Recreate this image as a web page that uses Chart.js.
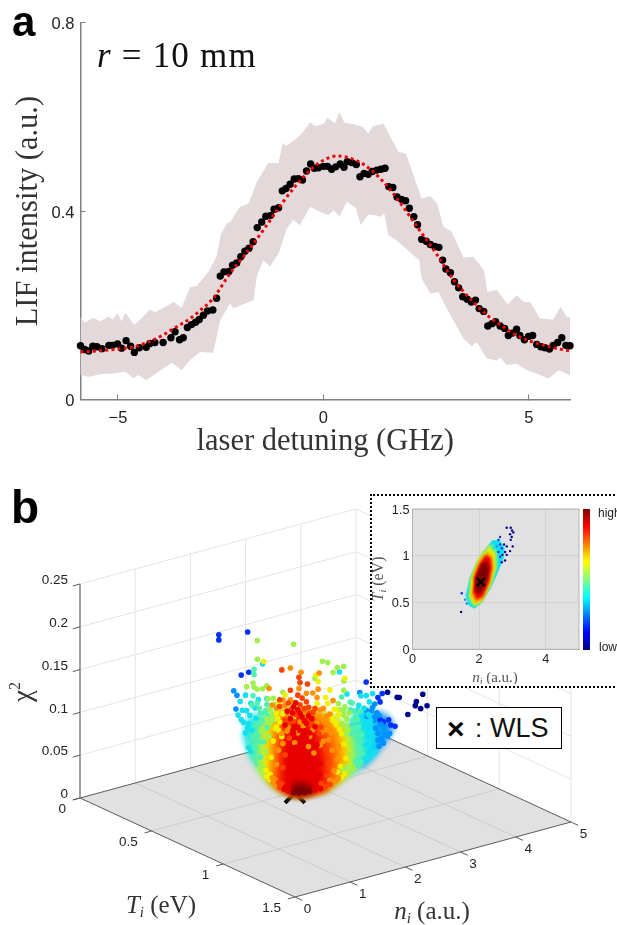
<!doctype html>
<html><head><meta charset="utf-8"><title>LIF intensity and chi-square map</title>
<script src="https://cdn.jsdelivr.net/npm/chart.js@4"></script>
<style>
html,body{margin:0;padding:0;background:#fff;width:617px;height:925px;overflow:hidden;font-family:"Liberation Sans",sans-serif}
canvas{position:absolute;display:block}
.abs{position:absolute;white-space:nowrap}
</style></head><body>
<canvas id="cA" width="617" height="470" style="left:0;top:0;width:617px;height:470px"></canvas>
<canvas id="cB" width="617" height="455" style="left:0;top:470px;width:617px;height:455px"></canvas>
<div class="abs" style="left:370px;top:494px;width:260px;height:190px;border:2px dotted #000;background:#fff"></div>
<canvas id="cC" width="245" height="188" style="left:372px;top:496px;width:245px;height:188px"></canvas>
<div class="abs" id="cbar" style="left:583px;top:509px;width:7px;height:141px"></div>
<div class="abs" style="left:598px;top:506px;font-size:12px;color:#222">high</div>
<div class="abs" style="left:599px;top:640px;font-size:12px;color:#222">low</div>
<div class="abs" style="left:436px;top:707px;width:124px;height:40px;border:1.5px solid #000;background:#fff"></div>
<div class="abs" style="left:447px;top:711px;font-size:30px;font-weight:bold;color:#000;line-height:36px">×</div>
<div class="abs" style="left:475px;top:711px;font-size:26px;color:#111;line-height:34px">:</div>
<div class="abs" style="left:490px;top:711px;font-size:27px;color:#111;line-height:34px">WLS</div>
<div class="abs" style="left:12px;top:-2px;font-size:42px;font-weight:bold;color:#000;line-height:48px">a</div>
<div class="abs" style="left:11px;top:482px;font-size:46px;font-weight:bold;color:#000;line-height:50px">b</div>
<script>
Chart.defaults.animation = false;
Chart.defaults.font.family = '"Liberation Sans", sans-serif';
const SERIF = '"Liberation Serif", serif';

// ---------- panel a ----------
const xTicksA = [-5, 0, 5];
const yTicksA = [0, 0.4, 0.8];
const detuning = [-5.91,-5.81,-5.71,-5.61,-5.51,-5.39,-5.22,-5.13,-5.01,-4.91,-4.80,-4.69,-4.60,-4.48,-4.31,-4.22,-4.10,-3.90,-3.71,-3.61,-3.50,-3.41,-3.31,-3.21,-3.11,-3.02,-2.92,-2.82,-2.69,-2.60,-2.51,-2.42,-2.30,-2.21,-2.11,-2.01,-1.91,-1.81,-1.71,-1.61,-1.50,-1.40,-1.28,-1.20,-1.09,-1.00,-0.91,-0.81,-0.71,-0.61,-0.51,-0.41,-0.31,-0.22,-0.12,0,0.10,0.20,0.30,0.41,0.50,0.58,0.69,0.80,0.89,0.99,1.09,1.19,1.30,1.40,1.50,1.59,1.69,1.79,1.90,2.00,2.09,2.20,2.29,2.39,2.50,2.60,2.71,2.81,2.90,2.98,3.09,3.19,3.29,3.39,3.50,3.60,3.70,3.79,3.90,4.00,4.10,4.19,4.30,4.41,4.50,4.60,4.70,4.78,4.89,4.99,5.09,5.19,5.29,5.39,5.50,5.59,5.70,5.80,5.90,6.00];
const intensity = [.114,.106,.103,.113,.112,.108,.115,.115,.118,.109,.125,.113,.100,.110,.111,.119,.121,.121,.131,.144,.127,.131,.153,.159,.164,.170,.179,.188,.190,.215,.262,.271,.272,.285,.290,.303,.315,.321,.335,.365,.377,.389,.391,.404,.407,.443,.448,.457,.468,.469,.466,.485,.500,.491,.492,.495,.495,.489,.494,.500,.493,.505,.503,.499,.473,.480,.478,.484,.487,.489,.491,.452,.450,.430,.425,.422,.406,.388,.371,.340,.336,.329,.325,.323,.296,.277,.269,.250,.237,.218,.213,.207,.211,.193,.187,.156,.161,.165,.156,.151,.136,.141,.149,.136,.127,.134,.136,.117,.112,.110,.107,.115,.121,.131,.115,.114];
const fitX = [-5.91,-5.5,-5,-4.6,-4.2,-3.9,-3.6,-3.24,-3,-2.68,-2.27,-1.91,-1.46,-1.01,-.71,-.32,0,.34,.7,1,1.34,1.7,2.03,2.4,2.72,3.16,3.57,4.04,4.38,4.7,5.1,5.5,5.88,6];
const fitY = [.101,.103,.107,.112,.124,.137,.153,.172,.189,.215,.268,.307,.36,.416,.45,.487,.508,.517,.511,.498,.473,.437,.398,.352,.313,.255,.214,.175,.154,.136,.122,.112,.105,.104];
const upperX = [-5.91,-5.81,-5.61,-5.43,-5.22,-5.13,-5.01,-4.91,-4.82,-4.6,-4.42,-4.22,-4.1,-3.89,-3.65,-3.45,-3.24,-3.08,-2.8,-2.6,-2.5,-2.35,-2.27,-2.03,-1.82,-1.62,-1.34,-1.09,-.99,-.91,-.65,-.53,-.32,-.2,0,.1,.28,.39,.51,.77,.97,1.09,1.2,1.46,1.82,2.01,2.39,2.6,2.77,2.92,3.12,3.41,3.65,3.91,3.99,4.22,4.48,4.7,4.88,5.03,5.27,5.59,5.77,5.92,6];
const upperY = [.176,.163,.173,.166,.176,.17,.183,.166,.184,.158,.173,.191,.185,.195,.207,.195,.239,.241,.271,.303,.349,.374,.377,.409,.416,.462,.502,.502,.545,.539,.554,.565,.588,.58,.585,.598,.586,.61,.588,.584,.578,.565,.58,.586,.526,.522,.427,.432,.416,.367,.356,.301,.303,.274,.228,.233,.202,.221,.207,.207,.172,.17,.197,.175,.175];
const lowerX = [-5.91,-5.71,-5.43,-5.1,-4.82,-4.62,-4.5,-4.31,-4.05,-3.69,-3.45,-3.24,-3,-2.68,-2.51,-2.27,-2.19,-1.7,-1.62,-1.46,-1.3,-1.09,-.89,-.73,-.57,-.32,-.08,.12,.24,.39,.57,.79,.91,1.09,1.26,1.38,1.48,1.58,1.78,2.19,2.33,2.39,2.6,2.8,3,3.41,3.61,3.73,3.97,4.22,4.3,4.46,4.7,4.95,5.19,5.47,5.72,5.84,6];
const lowerY = [.052,.048,.054,.055,.059,.045,.052,.041,.057,.078,.062,.084,.101,.099,.169,.204,.193,.211,.261,.296,.282,.31,.363,.381,.37,.409,.398,.391,.402,.389,.42,.406,.37,.393,.391,.388,.395,.349,.338,.306,.296,.257,.225,.228,.193,.129,.113,.122,.087,.083,.089,.073,.076,.062,.055,.044,.062,.058,.051];

const zip = (xs, ys) => xs.map((x, i) => ({x, y: ys[i]}));

function drawRuns(ctx, x, y, runs, opt = {}) {
  ctx.save();
  ctx.translate(x, y);
  if (opt.rot) ctx.rotate(opt.rot);
  ctx.textBaseline = 'alphabetic';
  ctx.textAlign = 'left';
  ctx.fillStyle = opt.color || '#222';
  if (opt.spacing) ctx.letterSpacing = opt.spacing;
  let w = 0;
  for (const r of runs) { ctx.font = r.f; w += ctx.measureText(r.t).width; }
  let cx = opt.align === 'left' ? 0 : -w / 2;
  for (const r of runs) { ctx.font = r.f; ctx.fillText(r.t, cx, r.dy || 0); cx += ctx.measureText(r.t).width; }
  ctx.restore();
}

// blurs the next nested colour outline so its bands melt together like the saturated dot cloud
const softBands = { id: 'softBands', afterDatasetDraw(ch, args) {
  const next = ch.data.datasets[args.index - 1];
  ch.ctx.filter = next && next.soft ? 'blur(' + next.soft + 'px)' : 'none';
} };

new Chart(document.getElementById('cA'), {
  type: 'scatter',
  data: { datasets: [
    { data: zip(fitX, fitY), showLine: true, pointRadius: 0, borderColor: '#f00000', borderWidth: 3, borderDash: [3, 3.2], cubicInterpolationMode: 'monotone', clip: false },
    { data: zip(detuning, intensity), pointRadius: 3.7, pointBorderWidth: 0, pointBackgroundColor: '#000', clip: false },
    { data: zip(upperX, upperY).concat(zip(lowerX, lowerY).reverse()), showLine: true, pointRadius: 0, borderWidth: 0, borderColor: 'rgba(0,0,0,0)', backgroundColor: '#e3d9da', fill: 'shape' }
  ]},
  options: {
    responsive: false, devicePixelRatio: 1,
    layout: { autoPadding: false, padding: { top: 22.7, right: 47, left: 0, bottom: 0 } },
    plugins: { legend: { display: false }, tooltip: { enabled: false } },
    scales: {
      x: { min: -5.91, max: 6, afterFit: s => { s.height = 70.5; },
        afterBuildTicks: s => { s.ticks = xTicksA.map(value => ({value})); },
        grid: { drawOnChartArea: false, tickLength: -5, color: '#808080', lineWidth: 1 },
        border: { color: '#808080', width: 1.5 },
        ticks: { padding: 14, maxRotation: 0, color: '#222', font: { size: 16.5 }, callback: v => v < 0 ? '\u2212' + Math.abs(v) : String(v) },
        title: { display: true, text: 'laser detuning (GHz)', color: '#333', font: { family: SERIF, size: 30.5 }, padding: { top: 0, bottom: 10 } } },
      y: { min: 0, max: 0.8, afterFit: s => { s.width = 80.5; },
        afterBuildTicks: s => { s.ticks = yTicksA.map(value => ({value})); },
        grid: { drawOnChartArea: false, tickLength: -5, color: '#808080', lineWidth: 1 },
        border: { color: '#808080', width: 1.5 },
        ticks: { padding: 11, labelOffset: 2, color: '#222', font: { size: 16.5 }, callback: v => String(v) },
        title: { display: true, text: 'LIF intensity (a.u.)', color: '#333', font: { family: SERIF, size: 30.5 }, padding: { top: 11, bottom: 0 } } }
    }
  },
  plugins: [{ id: 'panelLabel', afterDraw(ch) {
    drawRuns(ch.ctx, 97, 67, [
      { t: 'r', f: 'italic 35px ' + SERIF },
      { t: ' = 10 mm', f: '35px ' + SERIF }
    ], { align: 'left', color: '#111', spacing: '1.2px' });
  } }]
});

// ---------- panel b ----------
const nTicks = [0, 1, 2, 3, 4, 5];
const tTicks = [0, 0.5, 1, 1.5];
const chiTicks = [0, 0.05, 0.1, 0.15, 0.2, 0.25];
const wls3d = [2.05, 0.71, 0.0247];

// dots of the chi2 cloud, [n_i, chi2], grouped by colour level (T_i follows the ridge seen in the inset)
const dotsL0 = [[2.88,.153],[2.97,.148],[2.99,.148],[3.21,.154],[3.15,.145],[3.14,.140],[3.19,.137],[3.25,.141],[3.07,.129]];
const dotsL1 = [[1.30,.204],[1.30,.198],[1.57,.210],[1.51,.159],[1.58,.163],[2.68,.163],[2.79,.146],[2.83,.151],[2.81,.141],[2.81,.120],[2.84,.118],[2.89,.121],[2.91,.115],[2.95,.114]];
const dotsL2 = [[1.44,.140],[1.47,.135],[1.46,.119],[2.62,.150],[2.76,.138],[2.68,.130],[2.73,.130],[2.86,.103],[2.90,.105],[2.77,.110],[2.75,.119],[2.68,.123],[2.79,.096],[2.84,.093],
  [2.78,.128],[2.74,.134],[2.8,.125],[2.76,.123],[2.82,.115],[2.79,.104],[2.82,.098],[2.8,.089],[2.84,.094],[2.88,.102]];
const dotsL3 = [[1.50,.128],[1.52,.118],[1.71,.174],[1.55,.136],[1.67,.132],[1.75,.134],[2.50,.147],[2.43,.172],[2.63,.146],[2.68,.147],[2.74,.150],[2.71,.140],[2.61,.135],[2.60,.129],[2.71,.109],[2.65,.118],[2.64,.124],[2.71,.092],[2.75,.082],[1.48,.112],[1.51,.107],[1.58,.103],[1.61,.096],[1.55,.092],[1.65,.110],
  [1.56,.118],[1.6,.127],[1.59,.113],[1.64,.122],[1.53,.104],[1.57,.098],[1.58,.075],[1.6,.071],[2.66,.132],[2.7,.125],[2.72,.118],[2.66,.11],[2.68,.1],[2.72,.105],[2.68,.09],[2.67,.073],[2.72,.076],[2.76,.082]];
const dotsL4 = [[1.63,.167],[1.63,.161],[1.62,.136],[1.75,.127],[2.45,.143],[2.55,.137],[2.53,.129],[2.62,.067],[1.61,.125],[1.69,.116],[1.73,.109],[2.56,.117],[2.61,.110],[2.54,.102],[2.64,.101],[1.62,.088],[1.67,.083],[2.64,.079],
  [1.63,.075],[1.66,.09],[1.69,.065],[1.72,.083],[1.75,.1],[2.58,.07],[2.55,.09],[2.6,.1],[2.62,.085],[2.57,.108],
  [1.66,.128],[1.68,.122],[1.72,.117],[1.7,.109],[1.66,.103],[1.74,.12],[1.76,.114],[1.63,.064],[1.66,.057],[2.56,.128],[2.58,.122],[2.53,.138],[2.6,.118],[2.62,.128],[2.6,.065],[2.63,.069]];
const dotsL5 = [[1.66,.201],[2.00,.200],[1.66,.179],[2.27,.183],[2.32,.182],[2.41,.177],[2.47,.179],[2.37,.171],[2.47,.162],[2.20,.162],[2.47,.151],[1.75,.149],[1.71,.145],[1.66,.144],[1.62,.151],[1.63,.146],[1.56,.146],[1.81,.135],[1.90,.143],[2.42,.135],[2.47,.127],[2.47,.122],[1.70,.095],[1.78,.109],
  [1.69,.058],[1.72,.052],[1.74,.072],[1.77,.09],[1.78,.106],[1.71,.098],[2.5,.062],[2.53,.075],[2.54,.09],[2.48,.1],[2.51,.105],[2.46,.058],
  [1.78,.122],[1.8,.116],[1.75,.11],[1.83,.128],[1.82,.11],[1.76,.134],[2.44,.128],[2.48,.132],[2.5,.118],[2.46,.112],[2.52,.125],[2.5,.11],[1.69,.052],[1.72,.047],[2.52,.057],[2.56,.061]];
const dotsL6 = [[1.72,.177],[2.48,.165],[2.21,.166],[2.23,.159],[2.34,.150],[1.92,.140],[2.30,.141],[2.32,.134],[2.40,.128],[2.00,.113],[1.84,.102],[2.22,.133],[1.89,.091],[2.37,.115],
  [1.74,.05],[1.78,.046],[1.79,.066],[1.81,.085],[1.83,.1],[1.85,.112],[2.41,.055],[2.44,.062],[2.49,.072],[2.47,.088],[2.45,.1],[2.39,.113],
  [1.86,.131],[1.84,.118],[1.88,.126],[1.87,.108],[1.9,.118],[1.86,.098],[2.38,.128],[2.42,.122],[2.36,.12],[2.4,.11],[2.43,.105],[1.75,.043],[1.78,.04],[2.45,.049],[2.48,.054]];
const dotsL7 = [[1.97,.172],[2.07,.168],[2.24,.169],[2.23,.150],[1.77,.146],[2.05,.149],[2.12,.144],[2.18,.145],[2.22,.140],[1.97,.135],[1.80,.127],[1.84,.124],[2.37,.138],[2.31,.119],[2.25,.126],[1.95,.103],[2.04,.097],[2.15,.094],[2.09,.105],[2.22,.110],[2.31,.103],[1.90,.083],[2.01,.085],[2.14,.082],[2.25,.085],[2.33,.092],[2.19,.075],
  [1.8,.042],[1.83,.04],[1.84,.058],[1.86,.075],[1.89,.095],[1.93,.112],[2.34,.045],[2.38,.056],[2.41,.07],[2.42,.085],[2.35,.1],[2.28,.114],[2.36,.08],
  [1.92,.128],[1.9,.134],[1.96,.118],[1.94,.098],[2.0,.132],[2.24,.118],[2.28,.128],[2.26,.1],[2.3,.112],[2.34,.122],[2.28,.09],[2.18,.102],[2.1,.118],[2.06,.11],[1.81,.037],[1.84,.034],[2.42,.048],[2.39,.044]];
const dotsL8 = [[1.89,.169],[2.05,.162],[2.06,.156],[2.13,.155],[1.97,.146],[2.04,.141],[2.08,.138],[1.87,.134],[1.95,.131],[2.12,.134],[2.20,.127],[1.87,.126],[2.15,.121],[2.25,.106],[1.92,.111],
  [1.86,.037],[1.89,.036],[1.9,.055],[1.92,.07],[1.96,.09],[2.0,.11],[2.26,.04],[2.31,.05],[2.33,.065],[2.3,.08],[2.24,.098],[2.16,.112],
  [1.98,.124],[2.06,.13],[2.1,.126],[2.14,.128],[2.18,.122],[2.02,.118],[2.22,.104],[2.16,.108],[1.96,.108],[1.87,.032],[2.34,.04],[2.3,.037]];
const dotsL9 = [[2.00,.127],[2.04,.124],[1.94,.121],[1.97,.113],[2.08,.116],[1.92,.105],[2.01,.104],[2.12,.109],[2.17,.115],[2.20,.106],
  [1.93,.033],[1.95,.034],[1.96,.05],[1.99,.065],[2.02,.08],[2.1,.1],[2.2,.04],[2.24,.05],[2.25,.063],[2.22,.085],[2.15,.098],
  [2.02,.132],[2.06,.12],[1.99,.12],[2.1,.112],[2.14,.118],[2.0,.096],[2.06,.1],[2.12,.092],[1.91,.03],[1.95,.028],[2.25,.034],[2.2,.032]];
const dotsL10 = [[2.0,.027],[2.05,.027],[2.1,.028],[2.15,.03],[2.08,.032],[2.03,.03]];
const dotLevels = [dotsL0, dotsL1, dotsL2, dotsL3, dotsL4, dotsL5, dotsL6, dotsL7, dotsL8, dotsL9, dotsL10];

// saturated body of the cloud, outlines in [n_i, chi2]
const bowlL2 = [[2.62,.0625],[2.7,.072],[2.8,.087],[2.88,.1],[2.93,.112],[2.9,.122],[2.82,.128],[2.7,.125],[2.62,.11]];
const bowlL3r = [[2.5,.0535],[2.6,.0635],[2.7,.072],[2.76,.08],[2.8,.1],[2.75,.125],[2.65,.13],[2.55,.12],[2.5,.1]];
const bowlL3l = [[1.53,.09],[1.56,.08],[1.6,.069],[1.65,.058],[1.7,.095],[1.65,.115],[1.56,.105]];
const bowlL4 = [[1.58,.072],[1.6,.069],[1.7,.048],[1.8,.036],[1.9,.029],[2,.0248],[2.1,.0258],[2.2,.0298],[2.3,.034],[2.4,.0437],[2.5,.0535],[2.6,.0635],[2.64,.07],[2.66,.095],[2.6,.115],[2.5,.105],[2.4,.115],[2.2,.12],[2,.125],[1.8,.118],[1.65,.11],[1.58,.095]];
const bowlL5 = [[1.66,.055],[1.7,.048],[1.8,.036],[1.9,.029],[2,.0248],[2.1,.0258],[2.2,.0298],[2.3,.034],[2.4,.0437],[2.5,.0535],[2.57,.06],[2.56,.085],[2.5,.105],[2.4,.118],[2.2,.122],[2,.126],[1.8,.115],[1.72,.105],[1.68,.08]];
const bowlL6 = [[1.7,.048],[1.8,.036],[1.9,.029],[2,.0248],[2.1,.0258],[2.2,.0298],[2.3,.034],[2.4,.0437],[2.5,.0535],[2.52,.07],[2.5,.098],[2.42,.115],[2.2,.122],[2,.126],[1.82,.115],[1.76,.1],[1.72,.075]];
const bowlL7 = [[1.76,.04],[1.8,.036],[1.9,.029],[2,.0248],[2.1,.0258],[2.2,.0298],[2.3,.034],[2.4,.0437],[2.44,.047],[2.47,.07],[2.43,.105],[2.3,.12],[2.1,.125],[1.9,.122],[1.82,.108],[1.78,.08]];
const bowlL8 = [[1.82,.034],[1.9,.029],[2,.0248],[2.1,.0258],[2.2,.0298],[2.3,.034],[2.36,.04],[2.37,.075],[2.32,.1],[2.15,.118],[2,.12],[1.9,.11],[1.85,.08]];
const bowlL9 = [[1.88,.03],[2,.0248],[2.1,.0258],[2.2,.0298],[2.28,.033],[2.27,.07],[2.2,.1],[2.05,.115],[1.95,.105],[1.9,.075]];
const bowlL10 = [[1.97,.026],[2,.0248],[2.1,.0258],[2.17,.029],[2.14,.036],[2.05,.038],[1.99,.034]];

const jet = ['#00008f','#0030ff','#0090ff','#10e0f0','#50f0b0','#a0f050','#f0f000','#ff9000','#ff4000','#e80000','#7f0000'];

const view = { ox: 80, oy: 798, nx: 55.2, ny: -15, tx: 143.3, ty: 66, cy: -856 };
const project = (n, T, c) => ({ x: view.ox + view.nx * n + view.tx * T, y: view.oy + view.ny * n + view.ty * T + view.cy * c });
const ridgeT = n => 0.72 + 0.36 * (n - 2);
const onRidge = ([n, c]) => project(n, ridgeT(n), c);

const ds = [];
const seg = (a, b, color, w) => ds.push({ data: [project(...a), project(...b)], showLine: true, pointRadius: 0, borderColor: color, borderWidth: w });
const nMax = nTicks[nTicks.length - 1], tMax = tTicks[tTicks.length - 1], cMax = chiTicks[chiTicks.length - 1];
const WALL = '#e4e4e4', FLOORLINE = '#cdcdcd', EDGE = '#5a5a5a', AXIS = '#808080';

ds.push({ data: [project(0,0,0), project(nMax,0,0), project(nMax,tMax,0), project(0,tMax,0)], showLine: true, pointRadius: 0, borderWidth: 0, borderColor: 'rgba(0,0,0,0)', backgroundColor: '#e1e1e1', fill: 'shape' });
chiTicks.slice(1).forEach(c => { seg([0,0,c],[nMax,0,c],WALL,1); seg([nMax,0,c],[nMax,tMax,c],WALL,1); });
nTicks.slice(1).forEach(n => seg([n,0,0],[n,0,cMax],WALL,1));
tTicks.slice(1).forEach(t => seg([nMax,t,0],[nMax,t,cMax],WALL,1));
nTicks.slice(1,-1).forEach(n => seg([n,0,0],[n,tMax,0],FLOORLINE,1));
tTicks.slice(1,-1).forEach(t => seg([0,t,0],[nMax,t,0],FLOORLINE,1));
seg([0,0,0],[nMax,0,0],EDGE,1);
seg([nMax,0,0],[nMax,tMax,0],EDGE,1);
seg([nMax,tMax,0],[0,tMax,0],EDGE,1);
seg([0,tMax,0],[0,0,0],EDGE,1);
seg([0,0,0],[0,0,cMax],AXIS,1.5);
chiTicks.forEach(c => seg([0,0,c],[-0.13,0,c],EDGE,1));
tTicks.forEach(t => seg([0,t,0],[-0.13,t,0],EDGE,1));
nTicks.forEach(n => seg([n,tMax,0],[n,tMax+0.05,0],EDGE,1));

ds.push({ data: [project(...wls3d)], pointStyle: 'crossRot', pointRadius: 14, pointBorderWidth: 4, pointBorderColor: '#000', pointBackgroundColor: '#000' });

[[bowlL2,2],[bowlL3r,3],[bowlL3l,3],[bowlL4,4],[bowlL5,5],[bowlL6,6],[bowlL7,7],[bowlL8,8],[bowlL9,9],[bowlL10,10]].forEach(([poly, lv]) => {
  ds.push({ soft: 3, data: poly.map(onRidge), showLine: true, pointRadius: 0, borderWidth: 2, borderColor: jet[lv], backgroundColor: jet[lv], fill: 'shape' });
});
dotLevels.forEach((pts, lv) => ds.push({ data: pts.map(onRidge), pointRadius: 2.8, pointBorderWidth: 0, pointBackgroundColor: jet[lv] }));

const SANS = '"Liberation Sans", sans-serif';
new Chart(document.getElementById('cB'), {
  type: 'scatter',
  data: { datasets: ds.reverse() },
  options: {
    responsive: false, devicePixelRatio: 1,
    layout: { autoPadding: false, padding: 0 },
    plugins: { legend: { display: false }, tooltip: { enabled: false } },
    scales: { x: { display: false, min: 0, max: 617 }, y: { display: false, min: 470, max: 925, reverse: true } }
  },
  plugins: [softBands, { id: 'axisText3d', afterDatasetsDraw(ch) {
    const ctx = ch.ctx;
    ctx.filter = 'none';
    const at = p => ({ x: ch.scales.x.getPixelForValue(p.x), y: ch.scales.y.getPixelForValue(p.y) });
    ctx.save();
    ctx.font = '13.5px ' + SANS; ctx.fillStyle = '#222'; ctx.textBaseline = 'middle';
    ctx.textAlign = 'right';
    chiTicks.forEach(c => { const p = at(project(0,0,c)); ctx.fillText(String(c), p.x - 12, p.y - 3.5); });
    tTicks.forEach(t => { const p = at(project(0,t,0)); ctx.fillText(String(t), p.x - 14, p.y + 11.5); });
    ctx.textAlign = 'center';
    nTicks.forEach(n => { const p = at(project(n,tMax,0)); ctx.fillText(String(n), p.x + 12.5, p.y + 12.5); });
    ctx.restore();
    drawRuns(ctx, 161, 443, [{ t: 'T', f: 'italic 25px ' + SERIF }, { t: 'i', f: 'italic 15px ' + SERIF, dy: 4 }, { t: ' (eV)', f: '25px ' + SERIF }], { color: '#333' });
    drawRuns(ctx, 432, 449, [{ t: 'n', f: 'italic 25px ' + SERIF }, { t: 'i', f: 'italic 15px ' + SERIF, dy: 4 }, { t: ' (a.u.)', f: '25px ' + SERIF }], { color: '#333' });
    drawRuns(ctx, 31, 222, [{ t: '\u03c7', f: '27px ' + SERIF }, { t: '2', f: '16px ' + SERIF, dy: -11 }], { rot: -Math.PI / 2, color: '#333' });
  } }]
});

// ---------- inset ----------
const xTicksC = [0, 2, 4];
const yTicksC = [0, 0.5, 1, 1.5];
const wlsInset = [{ x: 2.05, y: 0.72 }];
const blobAzure = [[1.6,.58],[1.7,.47],[1.85,.44],[2.05,.49],[2.35,.66],[2.55,.82],[2.72,.97],[2.75,1.08],[2.62,1.16],[2.4,1.16],[2.15,1.05],[1.9,.9],[1.7,.74]];
const blobGreen = [[1.68,.57],[1.82,.46],[2.05,.5],[2.34,.68],[2.52,.86],[2.52,1.04],[2.36,1.12],[2.1,1.03],[1.84,.84],[1.72,.72]];
const blobYellow = [[1.74,.58],[1.88,.48],[2.08,.52],[2.34,.7],[2.46,.88],[2.43,1.03],[2.28,1.08],[2.0,.96],[1.78,.76]];
const blobOrange = [[1.78,.6],[1.9,.5],[2.1,.54],[2.32,.72],[2.42,.88],[2.38,1.0],[2.22,1.04],[2.0,.94],[1.82,.76]];
const blobRed = [[1.83,.62],[1.93,.54],[2.1,.57],[2.28,.72],[2.36,.86],[2.33,.97],[2.2,1.0],[2.02,.9],[1.86,.76]];
const blobDark = [[1.88,.66],[1.95,.6],[2.08,.62],[2.22,.74],[2.28,.85],[2.22,.93],[2.1,.92],[1.97,.82],[1.89,.74]];
const insetNavy = [[2.83,1.30],[2.95,1.30],[2.99,1.27],[3.03,1.25],[2.93,1.23],[2.98,1.20],[2.95,1.17],[3.01,1.10],[2.93,1.05],[2.83,1.10],[2.78,1.04],[2.83,1.01],[2.70,1.01],[2.78,.95],[2.68,.93],[2.75,1.12],[1.46,.40]];
const insetBlue = [[2.63,1.20],[2.58,1.17],[2.63,1.12],[1.48,.60],[2.68,1.08],[2.58,1.04],[2.63,.99]];
const insetAzure = [[1.58,.53],[1.63,.49],[2.53,1.10]];
const insetLime = [[2.28,1.10],[2.18,1.03]];
const insetCyan = [[1.78,.47],[2.43,1.08]];

const pts2 = a => a.map(([x, y]) => ({x, y}));
const cds = [];
[[blobAzure,3],[blobGreen,5],[blobYellow,6],[blobOrange,7],[blobRed,9],[blobDark,10]].forEach(([poly, lv]) => {
  cds.push({ soft: 1, data: pts2(poly), showLine: true, pointRadius: 0, borderWidth: 1, borderColor: jet[lv], backgroundColor: jet[lv], fill: 'shape' });
});
[[insetNavy,0],[insetBlue,1],[insetAzure,2],[insetCyan,3],[insetLime,5]].forEach(([a, lv]) => cds.push({ data: pts2(a), pointRadius: 1.2, pointBorderWidth: 0, pointBackgroundColor: jet[lv] }));
cds.push({ data: wlsInset, pointStyle: 'crossRot', pointRadius: 6, pointBorderWidth: 2.2, pointBorderColor: '#000' });

new Chart(document.getElementById('cC'), {
  type: 'scatter',
  data: { datasets: cds.reverse() },
  options: {
    responsive: false, devicePixelRatio: 1,
    layout: { autoPadding: false, padding: { top: 13, right: 38, left: 0, bottom: 0 } },
    plugins: { legend: { display: false }, tooltip: { enabled: false } },
    scales: {
      x: { min: 0, max: 5, afterFit: s => { s.height = 34.7; },
        afterBuildTicks: s => { s.ticks = xTicksC.map(value => ({value})); },
        grid: { color: '#d2d2d2', lineWidth: 1, drawTicks: false }, border: { color: '#b4b4b4', width: 1 },
        ticks: { padding: 3, color: '#222', maxRotation: 0, font: { size: 12.7 }, callback: v => String(v) } },
      y: { min: 0, max: 1.5, afterFit: s => { s.width = 40.5; },
        afterBuildTicks: s => { s.ticks = yTicksC.map(value => ({value})); },
        grid: { color: '#d2d2d2', lineWidth: 1, drawTicks: false }, border: { color: '#b4b4b4', width: 1 },
        ticks: { padding: 3, labelOffset: 1, color: '#222', font: { size: 12.7 }, callback: v => String(v) } }
    }
  },
  plugins: [softBands, { id: 'insetFrame',
    beforeDraw(ch) { const a = ch.chartArea, c = ch.ctx; c.save(); c.fillStyle = '#e1e1e1'; c.fillRect(a.left, a.top, a.width, a.height); c.restore(); },
    afterDatasetsDraw(ch) { ch.ctx.filter = 'none'; },
    afterDraw(ch) {
      const a = ch.chartArea, c = ch.ctx;
      c.save(); c.strokeStyle = '#b4b4b4'; c.lineWidth = 1; c.strokeRect(a.left, a.top, a.width, a.height); c.restore();
      drawRuns(c, 123, 186, [{ t: 'n', f: 'italic 15px ' + SERIF }, { t: 'i', f: 'italic 10px ' + SERIF, dy: 2.5 }, { t: ' (a.u.)', f: '15px ' + SERIF }], { color: '#555' });
      drawRuns(c, 11, 83, [{ t: 'T', f: 'italic 16px ' + SERIF }, { t: 'i', f: 'italic 10px ' + SERIF, dy: 2.5 }, { t: ' (eV)', f: '16px ' + SERIF }], { rot: -Math.PI / 2, color: '#555' });
    } }]
});

document.getElementById('cbar').style.background = 'linear-gradient(to top,' + ['#00007f','#0000ff','#0080ff','#00ffff','#80ff80','#ffff00','#ff8000','#ff0000','#7f0000'].join(',') + ')';
</script>
</body></html>
